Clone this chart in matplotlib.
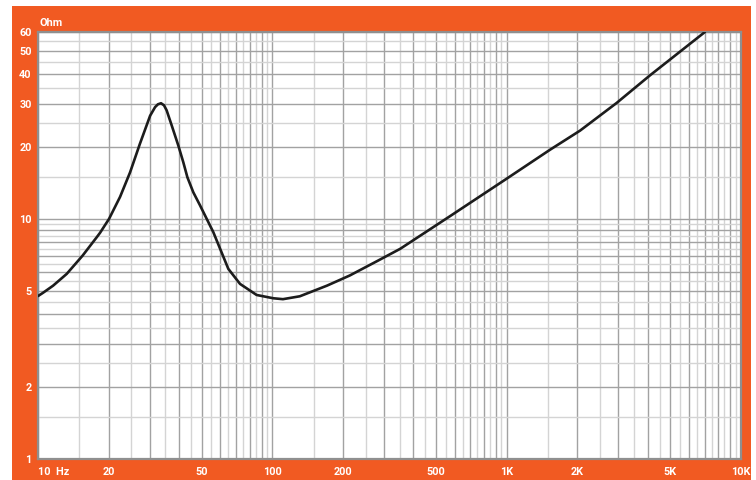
import numpy as np
import matplotlib
matplotlib.use("Agg")
import matplotlib.pyplot as plt
from matplotlib.patches import Rectangle
from matplotlib.ticker import FixedLocator, NullFormatter

# ---- data ----
freq_hz = [10, 10.5, 11.6, 13.26, 15.5, 17.8, 18.4, 20.1, 22.4, 24.7, 27.2, 30.1,
           31.6, 32.5, 33.5, 34.5, 35.4, 37.2, 39.7, 41.7, 43.4, 46.0, 49.1, 56,
           64.9, 72.8, 85.7, 101, 111, 131, 171, 214, 280, 351, 573, 1000,
           1531, 2056, 2948, 4090, 7015]
impedance_ohm = [4.77, 4.92, 5.27, 5.9, 7.03, 8.38, 8.75, 10.0, 12.35, 15.6, 20.5,
                 26.9, 29.2, 30.0, 30.3, 29.7, 28.3, 24.5, 20.2, 17.2, 14.9, 12.9,
                 11.4, 8.8, 6.19, 5.36, 4.82, 4.67, 4.63, 4.76, 5.27, 5.81,
                 6.67, 7.5, 10.26, 14.7, 19.4, 23.3, 30.4, 39.6, 60.0]

x_tick_values = [10, 20, 50, 100, 200, 500, 1000, 2000, 5000, 10000]
x_tick_labels = ["10  Hz", "20", "50", "100", "200", "500", "1K", "2K", "5K", "10K"]
y_tick_values = [1, 2, 5, 10, 20, 30, 40, 50, 60]
y_tick_labels = ["1", "2", "5", "10", "20", "30", "40", "50", "60"]
y_unit_label = "Ohm"

ORANGE = "#F15A22"
DARK_GRID = "#a2a2a2"
LIGHT_GRID = "#d4d4d4"
SPINE = "#8f8f8f"

W, H = 756, 481
fig = plt.figure(figsize=(W / 100, H / 100), dpi=100)
fig.patch.set_facecolor("white")

# orange panel
fig.patches.append(Rectangle((12 / W, 0), (751 - 12) / W, (H - 7) / H,
                             transform=fig.transFigure, facecolor=ORANGE,
                             edgecolor="none", zorder=-10))

left, right, top, bottom = 38, 741, 33, 460
ax = fig.add_axes([left / W, (H - bottom) / H, (right - left) / W, (bottom - top) / H])
ax.set_zorder(5)
ax.set_facecolor("white")
ax.set_xscale("log")
ax.set_yscale("log")
ax.set_xlim(10, 10000)
ax.set_ylim(1, 60)

# grid: dark at integer multiples, light at half multiples
def grid_vals(lo_dec, hi_dec, lo, hi):
    major, minor = [], []
    for d in range(lo_dec, hi_dec + 1):
        base = 10.0 ** d
        for m in range(1, 10):
            v = m * base
            if lo <= v <= hi:
                major.append(v)
            h = (m + 0.5) * base
            if lo <= h <= hi:
                minor.append(h)
    return major, minor

xmaj, xmin = grid_vals(1, 4, 10, 10000)
ymaj, ymin = grid_vals(0, 1, 1, 60)

ax.xaxis.set_major_locator(FixedLocator(xmaj))
ax.xaxis.set_minor_locator(FixedLocator(xmin))
ax.yaxis.set_major_locator(FixedLocator(ymaj))
ax.yaxis.set_minor_locator(FixedLocator(ymin))
for a in (ax.xaxis, ax.yaxis):
    a.set_major_formatter(NullFormatter())
    a.set_minor_formatter(NullFormatter())
ax.tick_params(which="both", length=0)
ax.grid(True, which="minor", color=LIGHT_GRID, linewidth=1.0, zorder=1)
ax.grid(True, which="major", color=DARK_GRID, linewidth=1.0, zorder=1)
ax.set_axisbelow(True)

for s in ax.spines.values():
    s.set_color(SPINE)
    s.set_linewidth(1.6)

ax.plot(freq_hz, impedance_ohm, color="#1c1c1c", linewidth=1.9,
        solid_joinstyle="round", solid_capstyle="round", zorder=3)

font = dict(color="white", fontweight="bold", fontsize=7.8, family=["Roboto", "DejaVu Sans"])

# x labels
xt = ax.get_xaxis_transform()
for v, lab in zip(x_tick_values, x_tick_labels):
    ha = "left" if v == 10 else "center"
    ax.text(v, -0.027, lab, transform=xt, ha=ha, va="center", **font)

# y labels
yt = ax.get_yaxis_transform()
for v, lab in zip(y_tick_values, y_tick_labels):
    ax.text(-0.009, v, lab, transform=yt, ha="right", va="center", **font)

fig.text(40 / W, (H - 23) / H, y_unit_label, ha="left", va="center", **font)

fig.savefig("out.png", dpi=100, facecolor=fig.get_facecolor())
